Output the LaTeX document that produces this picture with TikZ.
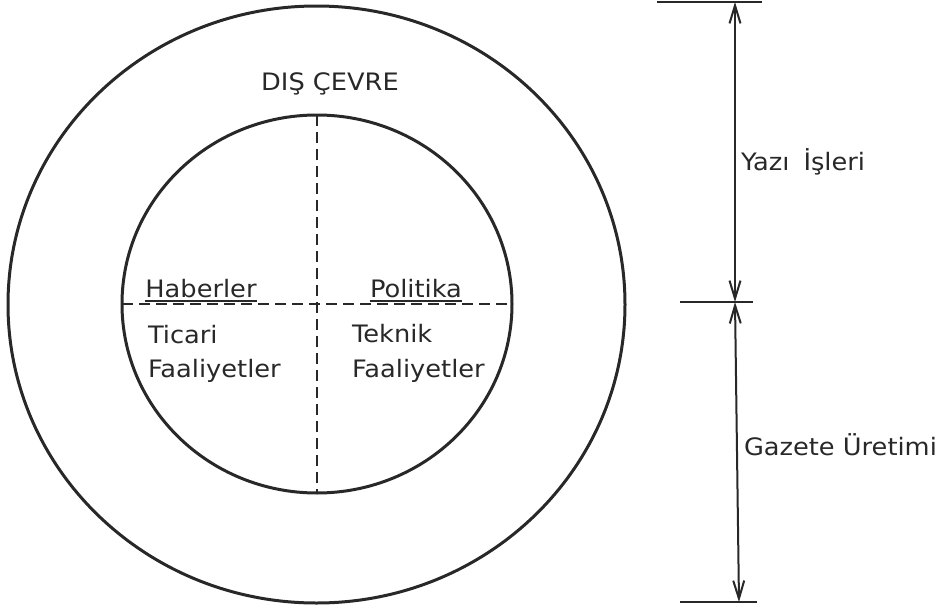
\documentclass[tikz,border=0pt]{standalone}
\usepackage{fontspec}
\setmainfont{DejaVu Sans}[FakeStretch=1.07]
\usetikzlibrary{arrows.meta,shapes.geometric}
\definecolor{ink}{RGB}{40,40,40}
\begin{document}
\begin{tikzpicture}[x=1pt,y=-1pt,
  ring/.style={draw=ink,line width=3pt,ellipse,inner sep=0pt,outer sep=0pt},
  divider/.style={draw=ink,line width=1.5pt,dash pattern=on 11pt off 6pt},
  dimline/.style={draw=ink,line width=2pt},
  dimarrow/.style={dimline,{Straight Barb[length=18pt,width=11pt,line width=2pt]}-{Straight Barb[length=18pt,width=11pt,line width=2pt]}},
  lbl/.style={inner sep=0pt,outer sep=0pt,text=ink,font=\fontsize{24}{28}\selectfont},
  uline/.style={draw=ink,line width=1.5pt}]
  \useasboundingbox (0,0) rectangle (943,608);

  % the two rings
  \node[ring,minimum width=617pt,minimum height=597pt] (outer) at (316.5,304.5) {};
  \node[ring,minimum width=390pt,minimum height=378pt] (inner) at (317,304) {};

  % quarter dividers inside the inner ring
  \draw[divider] (inner.north) -- (inner.south);
  \draw[divider] (inner.west) -- (inner.east);

  % ring label
  \node[lbl,anchor=base] (dis) at (330,90) {DIŞ ÇEVRE};

  % quadrant labels
  \node[lbl,anchor=base] (hab) at (201,297) {Haberler};
  \node[lbl,anchor=base] (pol) at (416,297) {Politika};
  \draw[uline] ([yshift=-4pt]hab.base west) -- ([yshift=-4pt]hab.base east);
  \draw[uline] ([yshift=-4pt]pol.base west) -- ([yshift=-4pt]pol.base east);

  \node[lbl,anchor=base west] (tic1) at (148,343) {Ticari};
  \node[lbl,anchor=base west] (tic2) at (148,377) {Faaliyetler};
  \node[lbl,anchor=base west] (tek1) at (352,342) {Teknik};
  \node[lbl,anchor=base west] (tek2) at (352,377) {Faaliyetler};

  % dimension lines on the right
  \coordinate (dtop) at (735,2);
  \coordinate (dmid) at (735,302);
  \coordinate (dbot) at (739,602);
  \coordinate (ttl) at (657,2);   \coordinate (ttr) at (762,2);
  \coordinate (tml) at (680,302); \coordinate (tmr) at (753,302);
  \coordinate (tbl) at (680,602); \coordinate (tbr) at (757,602);
  \draw[dimline] (ttl) -- (ttr);
  \draw[dimline] (tml) -- (tmr);
  \draw[dimline] (tbl) -- (tbr);
  \draw[dimarrow] (dtop) -- (dmid);
  \draw[dimarrow] (dmid) -- (dbot);

  \node[lbl,anchor=base west] (yazi) at (741,170) {Yazı\hspace{14pt}İşleri};
  \node[lbl,anchor=base west] (gaz) at (744,455) {Gazete Üretimi};
\end{tikzpicture}
\end{document}
